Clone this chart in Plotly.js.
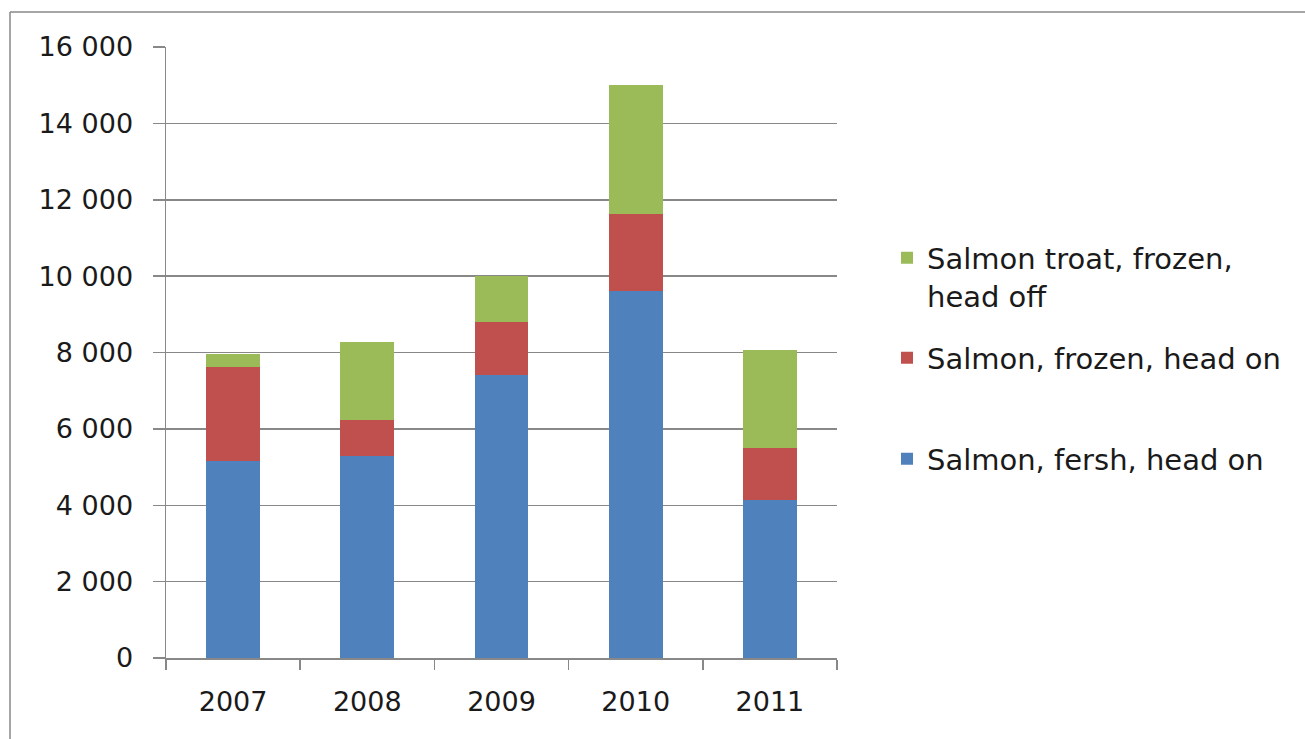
<!DOCTYPE html>
<html>
<head>
<meta charset="utf-8">
<script src="https://cdn.plot.ly/plotly-3.0.1.min.js"></script>
<style>html,body{margin:0;padding:0;background:#fff;}#chart{width:1305px;height:739px;}</style>
</head>
<body>
<div id="chart"></div>
<script>
const years = ['2007', '2008', '2009', '2010', '2011'];
const freshHeadOn = [5150, 5280, 7420, 9620, 4150];
const frozenHeadOn = [2470, 940, 1390, 2010, 1340];
const troutFrozenHeadOff = [350, 2060, 1200, 3380, 2580];
const seriesNames = ['Salmon, fersh, head on', 'Salmon, frozen, head on', 'Salmon troat, frozen,<br>head off'];
const yTicks = [0, 2000, 4000, 6000, 8000, 10000, 12000, 14000, 16000];

const W = 1305, H = 739;
const L = 166, R = 837, T = 47, B = 658;
const pw = R - L, ph = B - T;
const px = x => (x - L) / pw;
const py = y => (B - y) / ph;

const traces = [
  {type: 'bar', x: years, y: freshHeadOn, name: seriesNames[0], marker: {color: '#4F81BD'}, legend: 'legend3'},
  {type: 'bar', x: years, y: frozenHeadOn, name: seriesNames[1], marker: {color: '#C0504D'}, legend: 'legend2'},
  {type: 'bar', x: years, y: troutFrozenHeadOff, name: seriesNames[2], marker: {color: '#9BBB59'}, legend: 'legend'}
];

const legendFont = {family: 'DejaVu Sans', size: 29, color: '#1a1a1a'};
const tickFont = {family: 'DejaVu Sans', size: 27, color: '#1a1a1a'};
const lx = px(887);
const layout = {
  width: W, height: H,
  margin: {l: L, r: W - R, t: T, b: H - B, pad: 0},
  paper_bgcolor: '#fff', plot_bgcolor: '#fff',
  barmode: 'stack', bargap: 0.6,
  separators: ', ',
  font: {family: 'DejaVu Sans', size: 27, color: '#1a1a1a'},
  showlegend: true,
  legend: {x: lx, y: py(277), xanchor: 'left', yanchor: 'middle', font: legendFont, valign: 'top', bgcolor: 'rgba(0,0,0,0)', borderwidth: 0},
  legend2: {x: lx, y: py(358), xanchor: 'left', yanchor: 'middle', font: legendFont, bgcolor: 'rgba(0,0,0,0)', borderwidth: 0},
  legend3: {x: lx, y: py(459), xanchor: 'left', yanchor: 'middle', font: legendFont, bgcolor: 'rgba(0,0,0,0)', borderwidth: 0},
  xaxis: {
    type: 'category', categoryarray: years,
    showline: true, linecolor: '#888', linewidth: 1.5,
    ticks: 'outside', tickson: 'boundaries', ticklen: 10, tickcolor: '#888', tickwidth: 1.5,
    showgrid: false, zeroline: false,
    ticklabelstandoff: 19,
    tickfont: tickFont
  },
  yaxis: {
    range: [0, 16000], tickvals: yTicks, tickformat: ',d',
    showline: true, linecolor: '#888', linewidth: 1.5,
    ticks: 'outside', ticklen: 12, tickcolor: '#888', tickwidth: 1.5,
    showgrid: true, gridcolor: '#888', gridwidth: 1.5,
    zeroline: false,
    ticklabelstandoff: 14,
    tickfont: tickFont
  },
  shapes: [
    {type: 'line', xref: 'paper', yref: 'paper', x0: px(10), x1: px(1310), y0: py(12), y1: py(12), line: {color: '#888', width: 1.5}},
    {type: 'line', xref: 'paper', yref: 'paper', x0: px(10), x1: px(10), y0: py(12), y1: py(745), line: {color: '#888', width: 1.5}}
  ]
};

Plotly.newPlot('chart', traces, layout, {displayModeBar: false, staticPlot: true});
</script>
</body>
</html>
